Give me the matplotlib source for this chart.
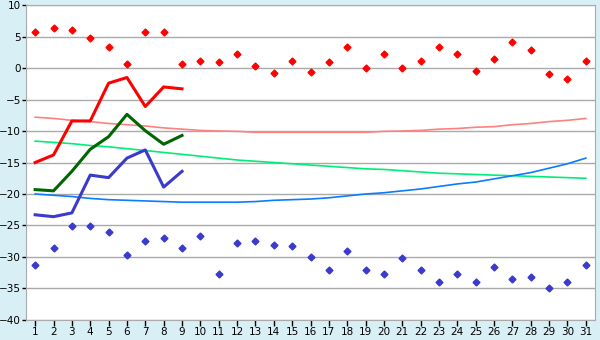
import numpy as np
import matplotlib.pyplot as plt

days = np.arange(1, 32)

# record highs / lows per day
rec_max = [5.7, 6.3, 6.0, 4.7, 3.4, 0.6, 5.8, 5.8, 0.7, 1.1, 0.9, 2.2, 0.3, -0.8, 1.1,
           -0.7, 0.9, 3.4, 0.0, 2.2, 0.0, 1.1, 3.4, 2.2, -0.5, 1.4, 4.1, 2.8, -1.0, -1.8, 1.2]
rec_min = [-31.3, -28.6, -25.1, -25.1, -26.1, -29.7, -27.5, -27.0, -28.6, -26.6, -32.7,
           -27.8, -27.5, -28.1, -28.3, -30.0, -32.1, -29.1, -32.1, -32.7, -30.2, -32.1,
           -33.9, -32.7, -33.9, -31.6, -33.5, -33.2, -35.0, -34.0, -31.3]

# this month so far (days 1-9)
cur_days = np.arange(1, 10)
cur_max = [-15.0, -13.8, -8.4, -8.4, -2.4, -1.5, -6.1, -3.0, -3.3]
cur_mean = [-19.3, -19.5, -16.4, -12.9, -10.9, -7.35, -9.95, -12.1, -10.7]
cur_min = [-23.3, -23.6, -23.0, -17.0, -17.4, -14.3, -13.0, -18.9, -16.4]

# normals
norm_max = [-7.8, -8.0, -8.3, -8.5, -8.8, -9.0, -9.2, -9.5, -9.7, -9.9, -10.0, -10.05,
            -10.2, -10.2, -10.2, -10.2, -10.2, -10.2, -10.2, -10.05, -10.0, -9.9, -9.7,
            -9.6, -9.4, -9.3, -9.0, -8.8, -8.5, -8.3, -8.0]
norm_mean = [-11.6, -11.8, -12.0, -12.3, -12.5, -12.8, -13.1, -13.4, -13.7, -14.0, -14.3,
             -14.6, -14.8, -15.0, -15.2, -15.4, -15.6, -15.8, -16.0, -16.1, -16.3, -16.5,
             -16.7, -16.8, -16.9, -17.0, -17.1, -17.2, -17.3, -17.4, -17.5]
norm_min = [-20.0, -20.2, -20.4, -20.7, -20.9, -21.0, -21.1, -21.2, -21.3, -21.3, -21.3,
            -21.3, -21.2, -21.0, -20.9, -20.8, -20.6, -20.3, -20.0, -19.8, -19.5, -19.2,
            -18.8, -18.4, -18.1, -17.6, -17.1, -16.6, -15.9, -15.2, -14.3]

bg = '#d9eff6'
fig = plt.figure(figsize=(6, 3.4), dpi=100, facecolor=bg)
ax = fig.add_axes([0.0433, 0.059, 0.9484, 0.926])
ax.set_facecolor('white')

ax.plot(days, norm_max, color='#ff8080', lw=1.2)
ax.plot(days, norm_mean, color='#00ee77', lw=1.2)
ax.plot(days, norm_min, color='#0a7cff', lw=1.2)

ax.plot(cur_days, cur_max, color='#ff0000', lw=2.2)
ax.plot(cur_days, cur_mean, color='#006600', lw=2.2)
ax.plot(cur_days, cur_min, color='#3a3acc', lw=2.2)

ax.plot(days, rec_max, 'D', color='#ff0000', ms=3.5, ls='none')
ax.plot(days, rec_min, 'D', color='#3a3acc', ms=3.5, ls='none')

ax.set_xlim(0.5, 31.5)
ax.set_ylim(-40, 10)
ax.set_xticks(days)
ax.set_yticks(np.arange(-40, 11, 5))
ax.yaxis.grid(True, color='#aaaaaa', lw=1)
ax.set_axisbelow(True)
for s in ax.spines.values():
    s.set_color('#aaaaaa')
ax.tick_params(axis='both', colors='black', labelsize=7.5, width=1, direction='out')
ax.tick_params(axis='y', length=3, pad=0.5)
ax.tick_params(axis='x', length=4, pad=1)

fig.savefig('out.png', dpi=100, facecolor=bg)
